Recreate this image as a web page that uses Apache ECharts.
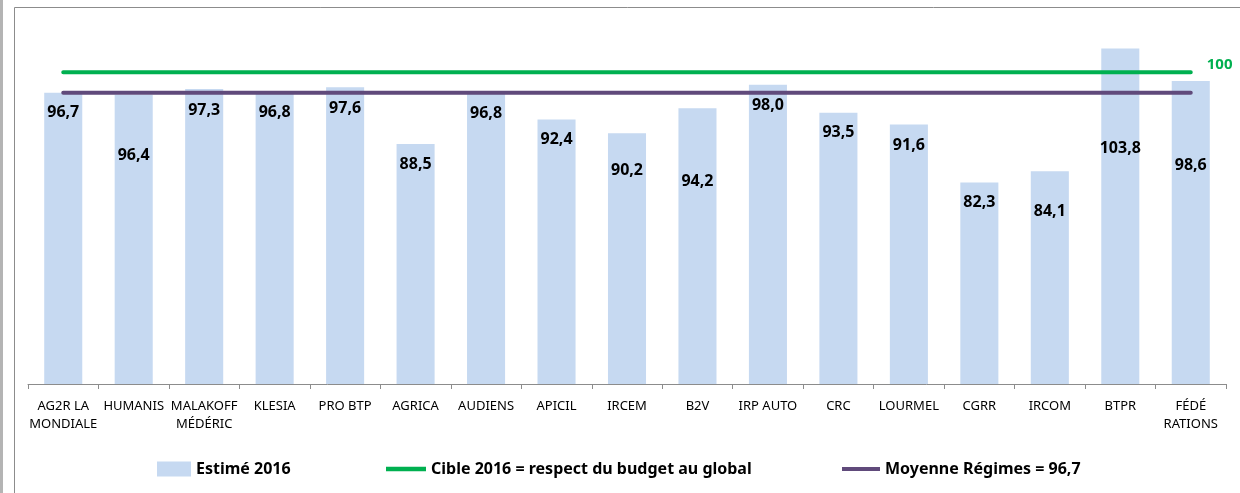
<!DOCTYPE html>
<html>
<head>
<meta charset="utf-8">
<script src="https://cdn.jsdelivr.net/npm/echarts@6/dist/echarts.min.js"></script>
<style>
html,body{margin:0;padding:0;background:#fff;}
#chart{width:1240px;height:493px;}
</style>
</head>
<body>
<div id="chart"></div>
<script>
const categories = ['AG2R LA\nMONDIALE','HUMANIS','MALAKOFF\nMÉDÉRIC','KLESIA','PRO BTP','AGRICA','AUDIENS','APICIL','IRCEM','B2V','IRP AUTO','CRC','LOURMEL','CGRR','IRCOM','BTPR','FÉDÉ\nRATIONS'];
const estime2016 = [96.7,96.4,97.3,96.8,97.6,88.5,96.8,92.4,90.2,94.2,98.0,93.5,91.6,82.3,84.1,103.8,98.6];
const cible2016 = [100,100,100,100,100,100,100,100,100,100,100,100,100,100,100,100,100];
const moyenne = [96.7,96.7,96.7,96.7,96.7,96.7,96.7,96.7,96.7,96.7,96.7,96.7,96.7,96.7,96.7,96.7,96.7];
// label vertical offsets (px from bar top) as placed in the original
const labelOffsets = [20,61,21,20,21,21,21,20,37,73,21,20,21,20,40,100,85];

const seriesNames = ['Estimé 2016','Cible 2016 = respect du budget au global','Moyenne Régimes = 96,7'];

const chart = echarts.init(document.getElementById('chart'), null, {renderer:'canvas'});

const barData = estime2016.map((v,i)=>({
  value: v,
  label: {position: ['50%', labelOffsets[i]]}
}));

const legendText = {fontFamily:'Noto Sans', fontWeight:'bold', fontSize:16, color:'#000'};
const lineIcon = 'path://M0,0h36v4h-36z';

chart.setOption({
  animation:false,
  backgroundColor:'#fff',
  graphic:[
    {type:'line', shape:{x1:1.5,y1:0,x2:1.5,y2:493}, style:{stroke:'#b4b4b4', lineWidth:3}, silent:true},
    {type:'polyline', shape:{points:[[14.5,493],[14.5,7.5],[1240,7.5]]}, style:{stroke:'#8c8c8c', lineWidth:1, fill:null}, silent:true}
  ],
  grid:{left:28, right:14, top:41, bottom:109, containLabel:false},
  legend:[
    {top:461, left:157, itemWidth:34, itemHeight:15, padding:0, textStyle:legendText,
     data:[{name:seriesNames[0], icon:'rect'}]},
    {top:461, left:386, itemWidth:40, itemHeight:15, padding:0, textStyle:legendText,
     data:[{name:seriesNames[1], icon:lineIcon}]},
    {top:461, left:842, itemWidth:38, itemHeight:15, padding:0, textStyle:legendText,
     data:[{name:seriesNames[2], icon:lineIcon}]}
  ],
  xAxis:{
    type:'category',
    data:categories,
    boundaryGap:true,
    axisLine:{lineStyle:{color:'#8c8c8c', width:1}},
    axisTick:{show:true, length:5, lineStyle:{color:'#8c8c8c'}},
    axisLabel:{interval:0, margin:13, fontFamily:'Noto Sans', fontSize:13, color:'#000', lineHeight:18}
  },
  yAxis:{
    type:'value', min:50, max:105,
    show:false,
    splitLine:{show:false}
  },
  series:[
    {
      name:seriesNames[0], type:'bar', data:barData, barWidth:'54%',
      itemStyle:{color:'#C6D9F1'},
      label:{show:true, align:'center', verticalAlign:'middle', formatter:p=>p.value.toFixed(1).replace('.',','), fontFamily:'Noto Sans', fontWeight:'bold', fontSize:16, color:'#000'},
      z:1
    },
    {
      name:seriesNames[1], type:'line', data:cible2016, symbol:'none',
      lineStyle:{color:'#00B050', width:4, cap:'round'}, itemStyle:{color:'#00B050'}, z:3,
      endLabel:{show:true, distance:16, offset:[0,-7], formatter:'{c}', color:'#00B050', fontWeight:'bold', fontSize:15, fontFamily:'Noto Sans'}
    },
    {
      name:seriesNames[2], type:'line', data:moyenne, symbol:'none',
      lineStyle:{color:'#604A7B', width:4, cap:'round'}, itemStyle:{color:'#604A7B'}, z:3
    }
  ]
});
</script>
</body>
</html>
